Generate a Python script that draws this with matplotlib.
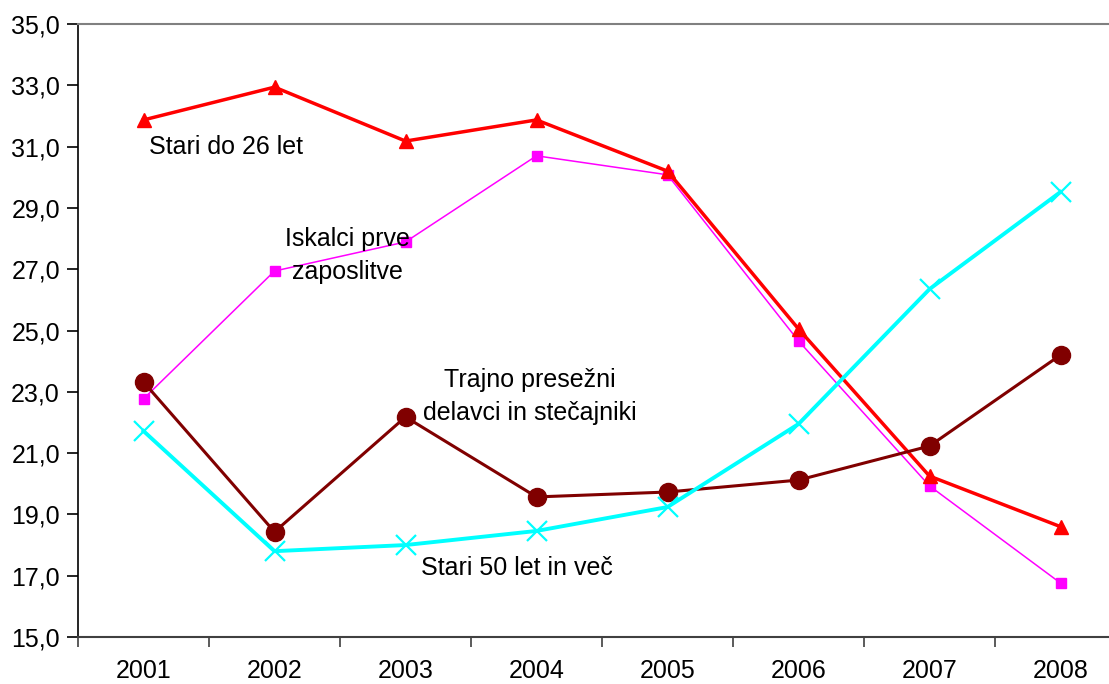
import matplotlib
matplotlib.use("Agg")
import matplotlib.pyplot as plt
from matplotlib.ticker import FuncFormatter, FixedLocator, NullFormatter

plt.rcParams["font.family"] = ["Liberation Sans", "DejaVu Sans"]

years = ["2001", "2002", "2003", "2004", "2005", "2006", "2007", "2008"]
stari_do_26 = [31.87, 32.94, 31.18, 31.87, 30.2, 25.05, 20.25, 18.6]
iskalci = [22.77, 26.94, 27.89, 30.7, 30.08, 24.66, 19.93, 16.76]
trajno_presezni = [23.32, 18.43, 22.18, 19.57, 19.73, 20.12, 21.23, 24.2]
stari_50 = [21.72, 17.8, 18.0, 18.46, 19.24, 21.95, 26.35, 29.52]

x = list(range(len(years)))

fig = plt.figure(figsize=(11.09, 6.84), dpi=100)
# axes extends a bit beyond the right edge, as in the original
ax = fig.add_axes([78 / 1109, 47 / 684, 1048 / 1109, 613 / 684])

ax.plot(x, iskalci, color="#FF00FF", lw=1.1, marker="s", ms=7, zorder=3)
ax.plot(x, stari_do_26, color="#FF0000", lw=2.5, marker="^", ms=10, zorder=4)
ax.plot(x, trajno_presezni, color="#800000", lw=2.2, marker="o", ms=13, zorder=5)
ax.plot(x, stari_50, color="#00FFFF", lw=2.8, marker="x", ms=14, mew=1.6, zorder=6)

ax.set_xlim(-0.5, len(years) - 0.5)
ax.set_ylim(15, 35)
ax.set_yticks([15 + 2 * i for i in range(11)])
ax.yaxis.set_major_formatter(FuncFormatter(lambda v, p: f"{v:.1f}".replace(".", ",")))

ax.xaxis.set_major_locator(FixedLocator([i - 0.5 for i in range(len(years) + 1)]))
ax.xaxis.set_major_formatter(NullFormatter())
ax.set_xticks(x, minor=True)
ax.set_xticklabels(years, minor=True)
ax.tick_params(axis="x", which="minor", length=0, pad=16, labelsize=18)
ax.tick_params(axis="x", which="major", length=7, width=1.2, color="#404040")
ax.tick_params(axis="y", length=8, width=1.2, labelsize=18, pad=5)

ax.spines["left"].set_color("black")
ax.spines["left"].set_linewidth(1.2)
ax.spines["bottom"].set_color("#404040")
ax.spines["bottom"].set_linewidth(1.5)
ax.spines["top"].set_color("#808080")
ax.spines["top"].set_linewidth(1.5)
ax.spines["right"].set_visible(False)

ax.text(0.04, 31.0, "Stari do 26 let", fontsize=18, ha="left", va="center")
ax.text(1.56, 27.45, "Iskalci prve\nzaposlitve", fontsize=18, ha="center", va="center",
        linespacing=1.45)
ax.text(2.95, 22.85, "Trajno presežni\ndelavci in stečajniki", fontsize=18,
        ha="center", va="center", linespacing=1.45)
ax.text(2.85, 17.25, "Stari 50 let in več", fontsize=18, ha="center", va="center")

fig.savefig("out.png", dpi=100)
